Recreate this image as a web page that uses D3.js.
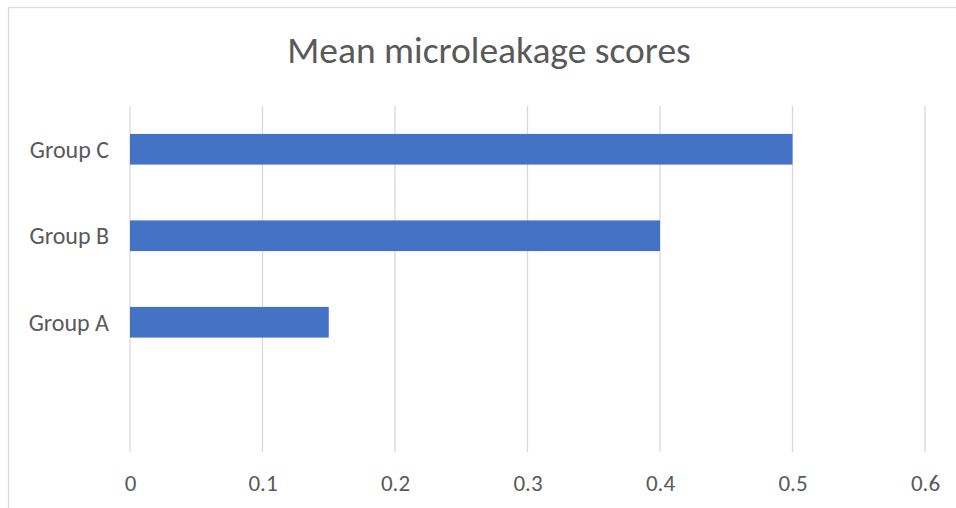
<!DOCTYPE html>
<html>
<head>
<meta charset="utf-8">
<script src="https://cdn.jsdelivr.net/npm/d3@7"></script>
<style>
  html, body { margin: 0; padding: 0; background: #fff; }
  svg { display: block; }
  text { font-family: Carlito, Calibri, Lato, sans-serif; fill: #595959; }
</style>
</head>
<body>
<svg id="chart" width="956" height="508"></svg>
<script>
// Categories listed bottom to top; the first slot is an empty row.
const categories = ["", "Group A", "Group B", "Group C"];
const scores = [null, 0.15, 0.4, 0.5];
const tickValues = [0, 0.1, 0.2, 0.3, 0.4, 0.5, 0.6];
const tickLabels = ["0", "0.1", "0.2", "0.3", "0.4", "0.5", "0.6"];
const title = "Mean microleakage scores";

const svg = d3.select("#chart");
const W = 956, H = 508;
const plot = { left: 130, right: 925, top: 106, bottom: 452 };
const font = "Carlito, Calibri, Lato, sans-serif";

// Chart frame
svg.append("rect")
  .attr("x", 8.5).attr("y", 7.5)
  .attr("width", W + 10).attr("height", H + 10)
  .attr("fill", "#fff").attr("stroke", "#d9d9d9").attr("stroke-width", 1.3);

const x = d3.scaleLinear().domain([0, 0.6]).range([plot.left, plot.right]);

const gap = 1.82; // gap width relative to bar thickness
const inner = gap / (1 + gap);
const y = d3.scaleBand()
  .domain(categories.slice().reverse())
  .range([plot.top, plot.bottom])
  .paddingInner(inner)
  .paddingOuter(inner / 2);

// Vertical gridlines
svg.append("g")
  .selectAll("line")
  .data(tickValues)
  .join("line")
  .attr("x1", d => x(d)).attr("x2", d => x(d))
  .attr("y1", plot.top).attr("y2", plot.bottom)
  .attr("stroke", "#d9d9d9").attr("stroke-width", 1.3);

// Bars
const rows = categories.map((c, i) => ({ c, v: scores[i] })).filter(d => d.v != null);
svg.append("g")
  .selectAll("rect")
  .data(rows)
  .join("rect")
  .attr("x", x(0))
  .attr("y", d => y(d.c))
  .attr("width", d => x(d.v) - x(0))
  .attr("height", y.bandwidth())
  .attr("fill", "#4472c4");

// Category axis
const yAxis = svg.append("g")
  .attr("transform", `translate(${plot.left},0)`)
  .call(d3.axisLeft(y).tickSize(0).tickPadding(21));
yAxis.select(".domain").remove();
yAxis.selectAll("text")
  .attr("dy", "0.36em")
  .style("font-family", font)
  .style("font-size", "24px")
  .attr("fill", "#595959");

// Value axis
const xAxis = svg.append("g")
  .attr("transform", `translate(0,${plot.bottom})`)
  .call(d3.axisBottom(x).tickValues(tickValues)
    .tickFormat((d, i) => tickLabels[i]).tickSize(0).tickPadding(22.5));
xAxis.select(".domain").remove();
xAxis.selectAll("text")
  .style("font-family", font)
  .style("font-size", "23px")
  .attr("fill", "#595959");

// Title
svg.append("text")
  .attr("x", 489).attr("y", 63)
  .attr("text-anchor", "middle")
  .style("font-size", "37.5px")
  .text(title);
</script>
</body>
</html>
